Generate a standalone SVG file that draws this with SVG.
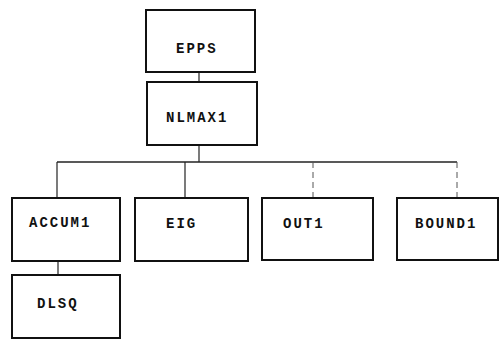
<svg xmlns="http://www.w3.org/2000/svg" width="500" height="340" viewBox="0 0 500 340">
<style>
.box{fill:#fff;stroke:#111;stroke-width:2}
.lbl{font-family:"Liberation Mono","DejaVu Sans Mono",monospace;font-size:14px;font-weight:bold;fill:#111;letter-spacing:2px}
.conn{stroke:#222;stroke-width:1.2;fill:none}
.dash{stroke:#555;stroke-width:1;stroke-dasharray:6 4;fill:none}
</style>
<rect width="500" height="340" fill="#fff"/>
<g id="connectors">
<line class="conn" x1="199" y1="72" x2="199" y2="82"/>
<line class="conn" x1="199" y1="145" x2="199" y2="162"/>
<line class="conn" x1="57" y1="162" x2="457" y2="162" style="stroke-width:1.6"/>
<line class="conn" x1="57" y1="162" x2="57" y2="198"/>
<line class="conn" x1="185" y1="162" x2="185" y2="198"/>
<line class="dash" x1="313" y1="162" x2="313" y2="198"/>
<line class="dash" x1="457" y1="162" x2="457" y2="198"/>
<line class="conn" x1="58" y1="261" x2="58" y2="275"/>
</g>
<g id="EPPS"><rect class="box" x="146" y="10" width="109" height="62"/><text class="lbl" x="176" y="53">EPPS</text></g>
<g id="NLMAX1"><rect class="box" x="147" y="82" width="110" height="63"/><text class="lbl" x="166" y="122">NLMAX1</text></g>
<g id="ACCUM1"><rect class="box" x="12" y="198" width="108" height="63"/><text class="lbl" x="29" y="227">ACCUM1</text></g>
<g id="EIG"><rect class="box" x="135" y="198" width="113" height="63"/><text class="lbl" x="166" y="228">EIG</text></g>
<g id="OUT1"><rect class="box" x="262" y="198" width="111" height="62"/><text class="lbl" x="283" y="228">OUT1</text></g>
<g id="BOUND1"><rect class="box" x="397" y="198" width="101" height="62"/><text class="lbl" x="415" y="228">BOUND1</text></g>
<g id="DLSQ"><rect class="box" x="12" y="275" width="108" height="63"/><text class="lbl" x="37" y="308">DLSQ</text></g>
</svg>
